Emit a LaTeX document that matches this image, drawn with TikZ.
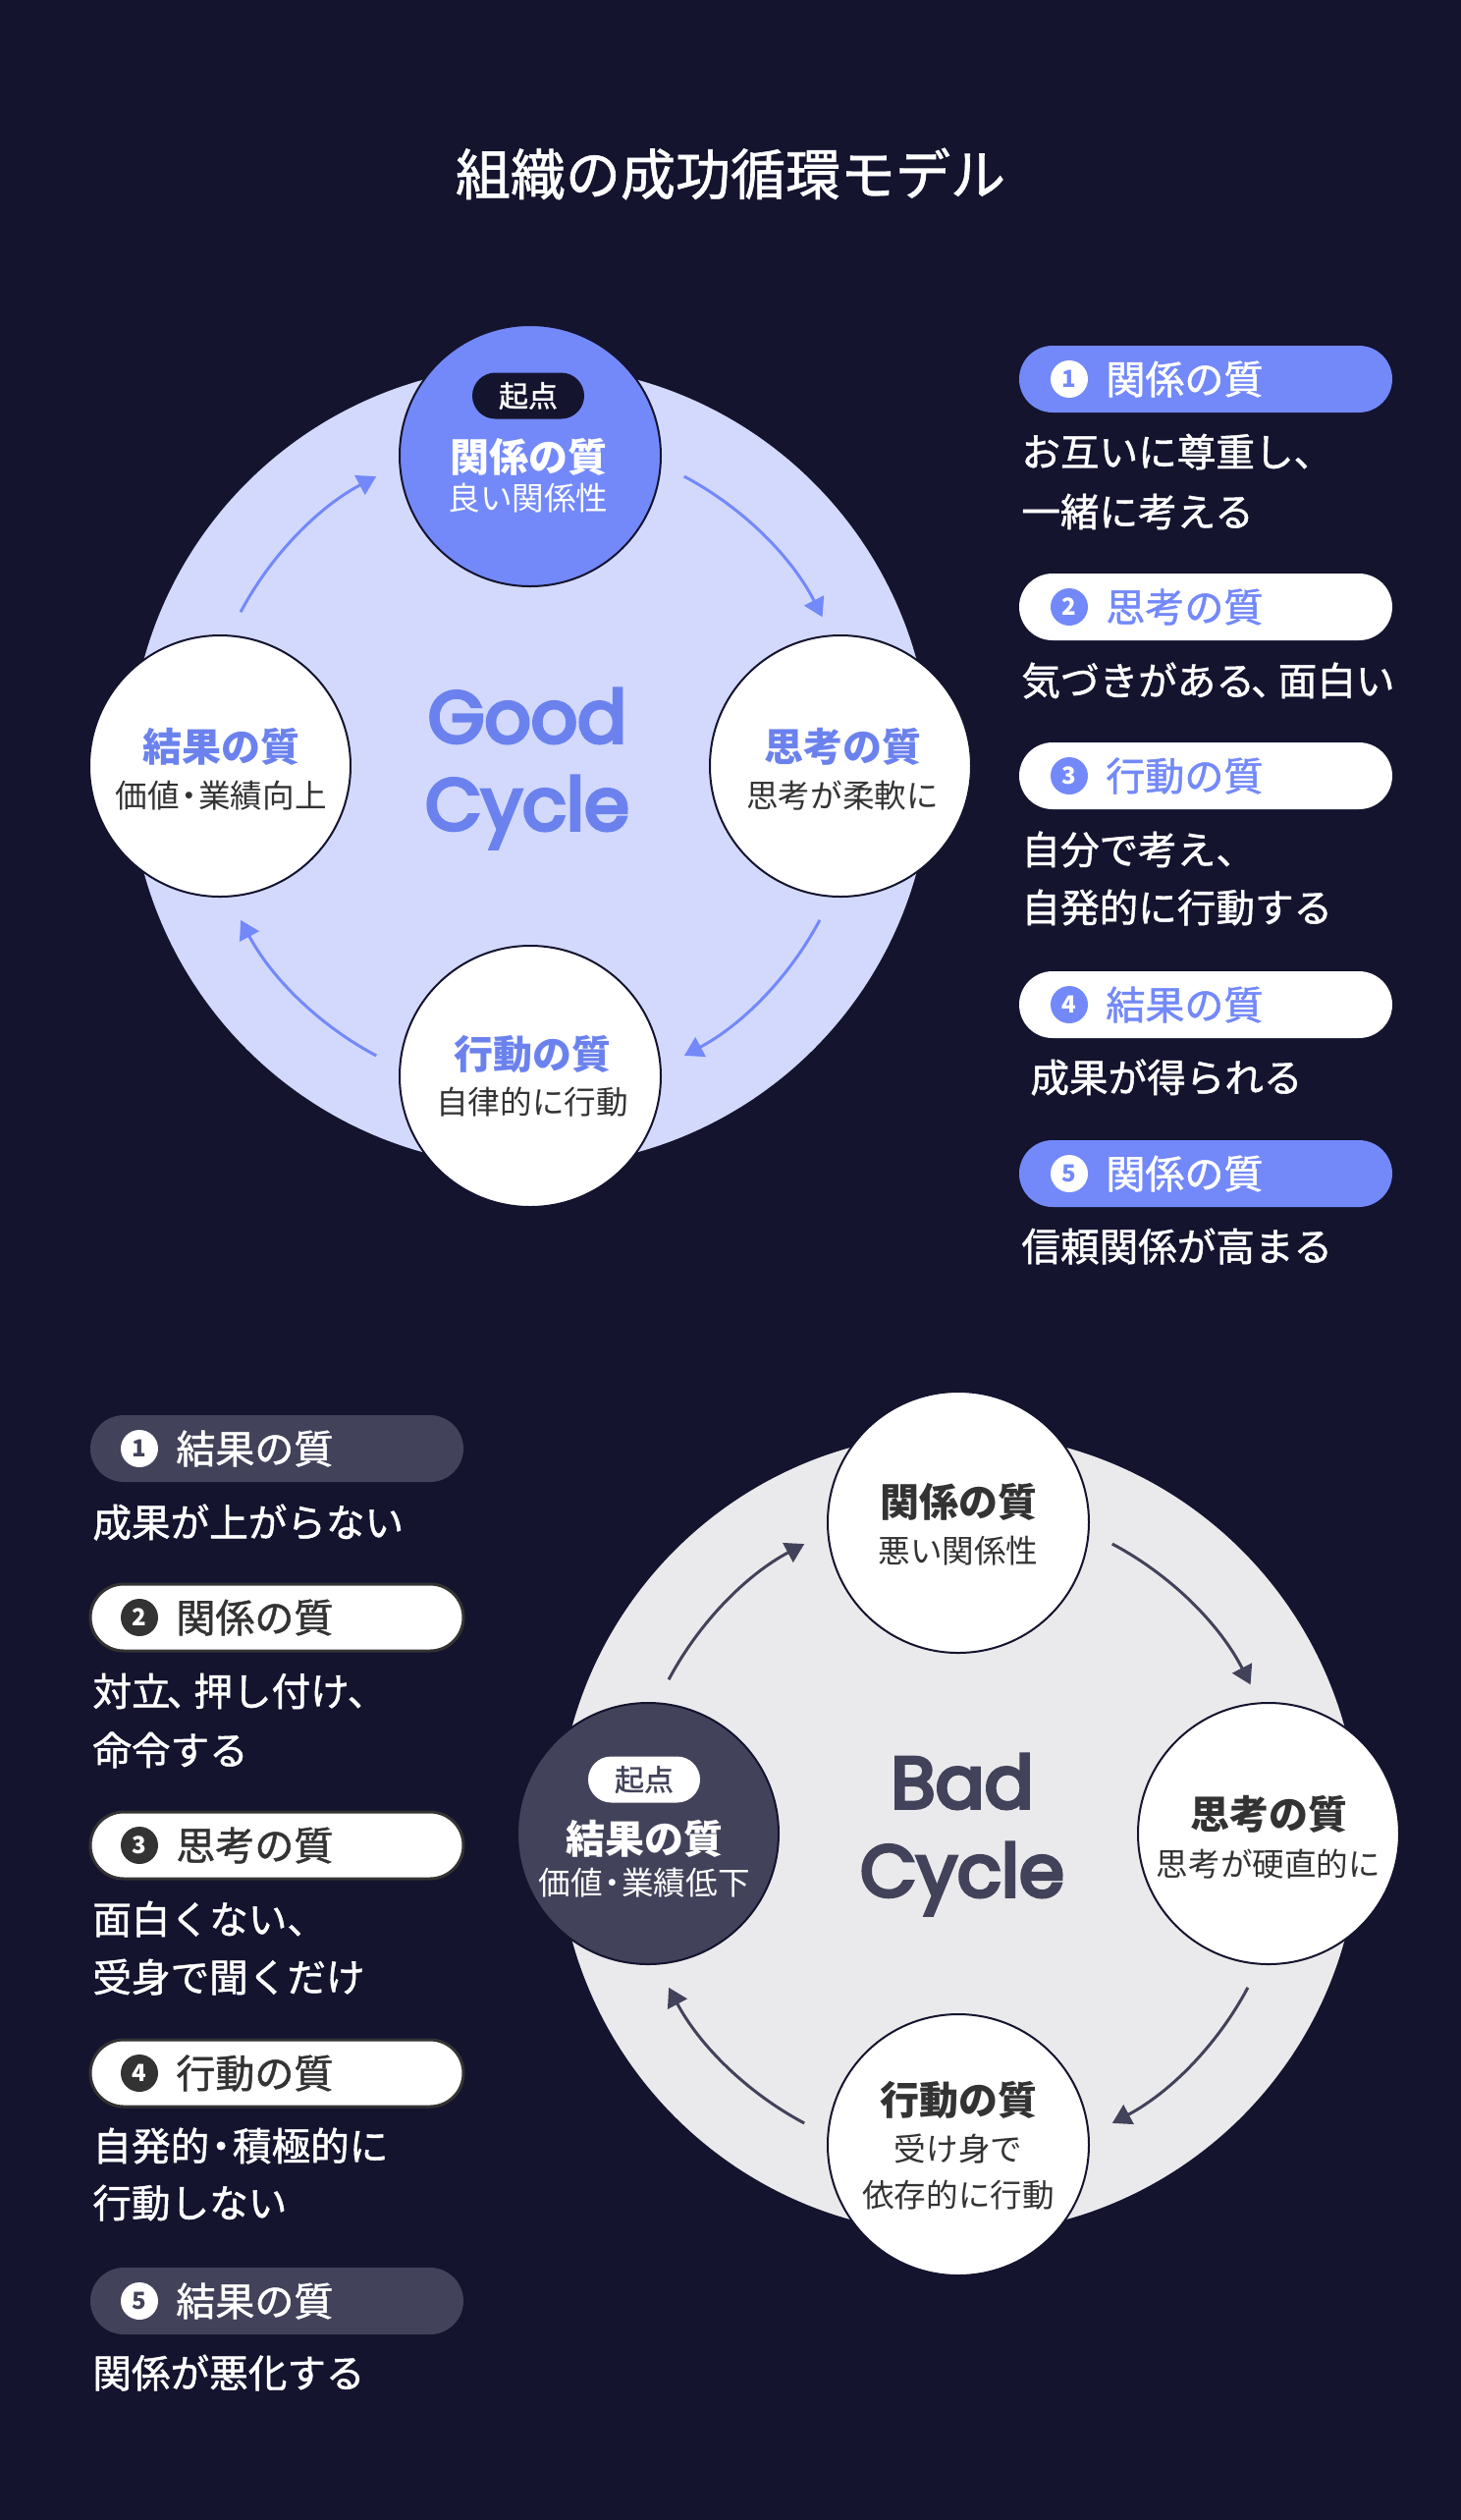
\documentclass[tikz,border=0pt]{standalone}
\usepackage{fontspec}
\setmainfont{Noto Sans CJK JP}
\newfontfamily\jpmed{Noto Sans CJK JP}[FakeBold=1.2]
\newfontfamily\popfont{Poppins}[FakeBold=5]
\usetikzlibrary{arrows.meta,calc}
\definecolor{bg}{HTML}{14142F}
\definecolor{peri}{HTML}{7389FA}
\definecolor{gfill}{HTML}{D3D9FD}
\definecolor{gtext}{HTML}{6B82EE}
\definecolor{bfill}{HTML}{EAEAEC}
\definecolor{slate}{HTML}{42425A}
\definecolor{inkc}{HTML}{333333}
\newcommand{\fsz}[1]{\fontsize{#1}{#1}\selectfont}
\newcommand{\ndot}{\kern-0.2em・\kern-0.2em}
\newcommand{\ncomma}{\kern-0.1em、\kern-0.3em}
\tikzset{
  bigc/.style={circle, minimum size=408pt, inner sep=0},
  cnode/.style={circle, minimum size=133pt, inner sep=0, draw=bg, line width=1pt},
  ntitle/.style={inner sep=0, font=\fsz{20}\bfseries},
  nsub/.style={inner sep=0, font=\fsz{16.3}},
  pill/.style={rounded corners=17pt, minimum width=190pt, minimum height=34pt, inner sep=0},
  num/.style={circle, minimum size=19pt, inner sep=0, font=\fsz{12}\bfseries},
  ptext/.style={anchor=west, inner sep=0, font=\jpmed\fsz{20}},
  desc/.style={anchor=west, inner sep=0, font=\jpmed\fsz{19.8}, text=white},
  tagpill/.style={rounded corners=11.75pt, minimum width=57pt, minimum height=23.5pt, inner sep=0, font=\jpmed\fsz{15}},
  cyc/.style={anchor=base, inner sep=0, font=\popfont\fsz{37}},
  garrow/.style={draw=peri, line width=1.5pt, -{Triangle[length=9.5pt,width=11pt]}},
  barrow/.style={draw=slate, line width=1.5pt, -{Triangle[length=9.5pt,width=11pt]}},
}
\begin{document}
\begin{tikzpicture}[x=0.5pt, y=-0.5pt]
\fill[bg] (0,0) rectangle (1488,2566);
\useasboundingbox (0,0) rectangle (1488,2566);

% title
\node[inner sep=0, text=white, font=\jpmed\fsz{28}] (title) at (744,177) {組織の成功循環モデル};

% ================= GOOD CYCLE =================
\coordinate (gC) at (540,780);
\node[bigc, fill=gfill] (gbig) at (gC) {};
\node[cyc, text=gtext] (gw1) at (537,756) {Good};
\node[cyc, text=gtext] (gw2) at (537,845) {Cycle};

\coordinate (ga1) at ($(gC)+(-62:334)$);
\coordinate (ga2) at ($(gC)+(28:334)$);
\coordinate (ga3) at ($(gC)+(118:334)$);
\coordinate (ga4) at ($(gC)+(-152:334)$);
\draw[garrow] (ga1) arc[start angle=-62, end angle=-27, radius=334];
\draw[garrow] (ga2) arc[start angle=28, end angle=62, radius=334];
\draw[garrow] (ga3) arc[start angle=118, end angle=152, radius=334];
\draw[garrow] (ga4) arc[start angle=-152, end angle=-118, radius=334];

\node[cnode, fill=peri] (g1) at (540,464) {};
\node[tagpill, fill=bg, text=white] (g1tag) at (538,403) {起点};
\node[ntitle, text=white] (g1t) at (538,465) {関係の質};
\node[nsub, text=white] (g1s) at (538,507) {良い関係性};

\node[cnode, fill=white] (g2) at (856,780) {};
\node[ntitle, text=gtext] (g2t) at (858,760) {思考の質};
\node[nsub, text=inkc] (g2s) at (858,810) {思考が柔軟に};

\node[cnode, fill=white] (g3) at (540,1096) {};
\node[ntitle, text=gtext] (g3t) at (542,1073) {行動の質};
\node[nsub, text=inkc] (g3s) at (542,1122) {自律的に行動};

\node[cnode, fill=white] (g4) at (224,780) {};
\node[ntitle, text=gtext] (g4t) at (225,760) {結果の質};
\node[nsub, text=inkc] (g4s) at (225,810) {価値\ndot 業績向上};

% good list
\node[pill, fill=peri] (gp1) at (1228,386) {};
\node[num, fill=white, text=peri] (gp1n) at (1089,386) {1};
\node[ptext, text=white] (gp1t) at (1126,386) {関係の質};
\node[desc] (gd1a) at (1040,460) {お互いに尊重し、};
\node[desc] (gd1b) at (1040,521) {一緒に考える};

\node[pill, fill=white] (gp2) at (1228,618) {};
\node[num, fill=peri, text=white] (gp2n) at (1089,618) {2};
\node[ptext, text=peri] (gp2t) at (1126,618) {思考の質};
\node[desc] (gd2a) at (1040,693) {気づきがある\ncomma 面白い};

\node[pill, fill=white] (gp3) at (1228,790) {};
\node[num, fill=peri, text=white] (gp3n) at (1089,790) {3};
\node[ptext, text=peri] (gp3t) at (1126,790) {行動の質};
\node[desc] (gd3a) at (1040,865) {自分で考え、};
\node[desc] (gd3b) at (1040,924) {自発的に行動する};

\node[pill, fill=white] (gp4) at (1228,1023) {};
\node[num, fill=peri, text=white] (gp4n) at (1089,1023) {4};
\node[ptext, text=peri] (gp4t) at (1126,1023) {結果の質};
\node[desc] (gd4a) at (1049,1097) {成果が得られる};

\node[pill, fill=peri] (gp5) at (1228,1195) {};
\node[num, fill=white, text=peri] (gp5n) at (1089,1195) {5};
\node[ptext, text=white] (gp5t) at (1126,1195) {関係の質};
\node[desc] (gd5a) at (1040,1269) {信頼関係が高まる};

% ================= BAD CYCLE =================
\coordinate (bC) at (976,1867);
\node[bigc, fill=bfill] (bbig) at (bC) {};
\node[cyc, text=slate] (bw1) at (980,1841) {Bad};
\node[cyc, text=slate] (bw2) at (980,1931) {Cycle};

\coordinate (ba1) at ($(bC)+(-62:334)$);
\coordinate (ba2) at ($(bC)+(28:334)$);
\coordinate (ba3) at ($(bC)+(118:334)$);
\coordinate (ba4) at ($(bC)+(-152:334)$);
\draw[barrow] (ba1) arc[start angle=-62, end angle=-27, radius=334];
\draw[barrow] (ba2) arc[start angle=28, end angle=62, radius=334];
\draw[barrow] (ba3) arc[start angle=118, end angle=152, radius=334];
\draw[barrow] (ba4) arc[start angle=-152, end angle=-118, radius=334];

\node[cnode, fill=white] (b1) at (976,1550) {};
\node[ntitle, text=inkc] (b1t) at (976,1529) {関係の質};
\node[nsub, text=inkc] (b1s) at (976,1579) {悪い関係性};

\node[cnode, fill=white] (b2) at (1292,1867) {};
\node[ntitle, text=inkc] (b2t) at (1292,1847) {思考の質};
\node[nsub, text=inkc] (b2s) at (1292,1898) {思考が硬直的に};

\node[cnode, fill=white] (b3) at (976,2184) {};
\node[ntitle, text=inkc] (b3t) at (976,2138) {行動の質};
\node[nsub, text=inkc] (b3s) at (976,2188) {受け身で};
\node[nsub, text=inkc] (b3s2) at (976,2235) {依存的に行動};

\node[cnode, fill=slate] (b4) at (660,1867) {};
\node[tagpill, fill=white, text=slate] (b4tag) at (656,1812) {起点};
\node[ntitle, text=white] (b4t) at (656,1872) {結果の質};
\node[nsub, text=white] (b4s) at (656,1917) {価値\ndot 業績低下};

% bad list
\node[pill, fill=slate] (bp1) at (282,1475) {};
\node[num, fill=white, text=slate] (bp1n) at (142,1475) {1};
\node[ptext, text=white] (bp1t) at (179,1475) {結果の質};
\node[desc] (bd1a) at (94,1550) {成果が上がらない};

\node[pill, fill=white, draw=inkc, line width=1.5pt] (bp2) at (282,1647) {};
\node[num, fill=inkc, text=white] (bp2n) at (142,1647) {2};
\node[ptext, text=inkc] (bp2t) at (179,1647) {関係の質};
\node[desc] (bd2a) at (94,1722) {対立\ncomma 押し付け、};
\node[desc] (bd2b) at (94,1782) {命令する};

\node[pill, fill=white, draw=inkc, line width=1.5pt] (bp3) at (282,1879) {};
\node[num, fill=inkc, text=white] (bp3n) at (142,1879) {3};
\node[ptext, text=inkc] (bp3t) at (179,1879) {思考の質};
\node[desc] (bd3a) at (94,1954) {面白くない、};
\node[desc] (bd3b) at (94,2013) {受身で聞くだけ};

\node[pill, fill=white, draw=inkc, line width=1.5pt] (bp4) at (282,2111) {};
\node[num, fill=inkc, text=white] (bp4n) at (142,2111) {4};
\node[ptext, text=inkc] (bp4t) at (179,2111) {行動の質};
\node[desc] (bd4a) at (94,2185) {自発的\ndot 積極的に};
\node[desc] (bd4b) at (94,2243) {行動しない};

\node[pill, fill=slate] (bp5) at (282,2343) {};
\node[num, fill=white, text=slate] (bp5n) at (142,2343) {5};
\node[ptext, text=white] (bp5t) at (179,2343) {結果の質};
\node[desc] (bd5a) at (94,2416) {関係が悪化する};
\end{tikzpicture}
\end{document}
